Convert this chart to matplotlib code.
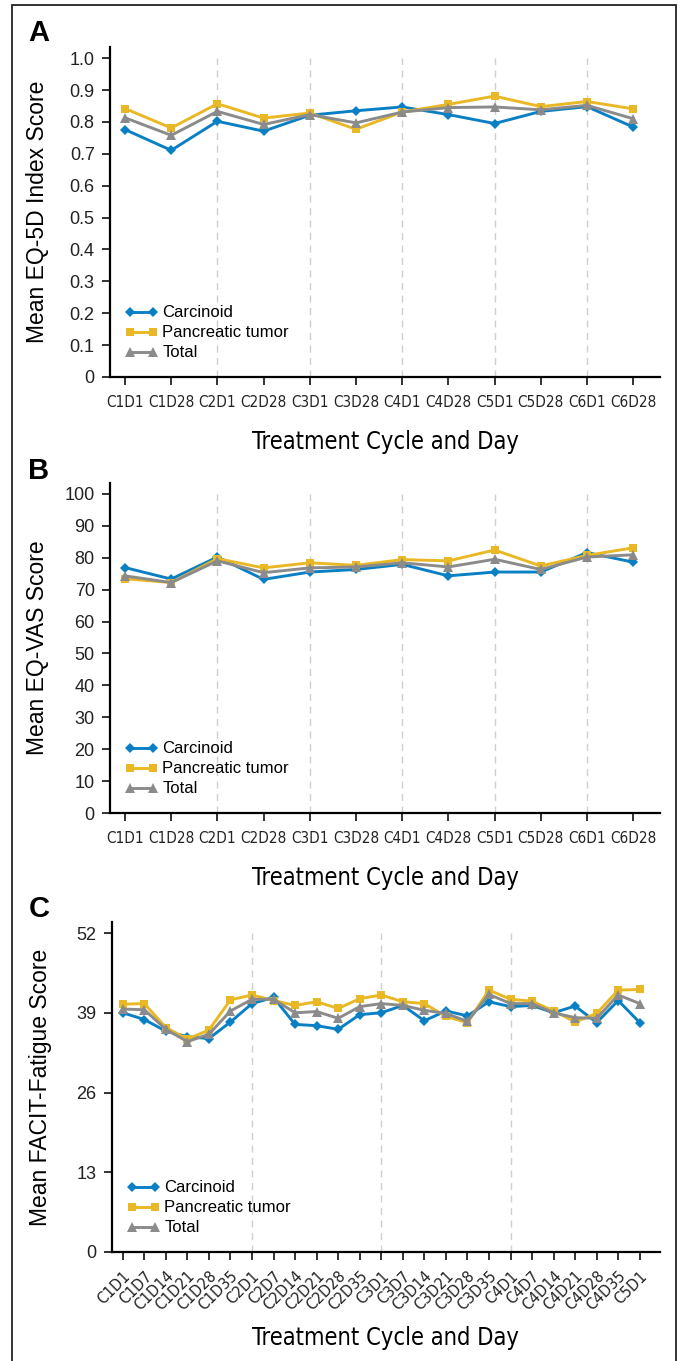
"""Recreate the three-panel EQ-5D / EQ-VAS / FACIT-Fatigue line chart."""

import matplotlib
matplotlib.use("Agg")
import matplotlib.pyplot as plt
from matplotlib.lines import Line2D

# ---- data -------------------------------------------------------------
visits_ab = ["C1D1", "C1D28", "C2D1", "C2D28", "C3D1", "C3D28",
             "C4D1", "C4D28", "C5D1", "C5D28", "C6D1", "C6D28"]

eq5d_carcinoid = [0.776, 0.711, 0.802, 0.771, 0.821, 0.835,
                  0.847, 0.823, 0.795, 0.833, 0.848, 0.784]
eq5d_pancreatic = [0.842, 0.781, 0.857, 0.812, 0.828, 0.777,
                   0.831, 0.855, 0.881, 0.848, 0.864, 0.841]
eq5d_total = [0.813, 0.758, 0.833, 0.792, 0.823, 0.797,
              0.831, 0.845, 0.847, 0.838, 0.852, 0.810]

vas_carcinoid = [76.9, 73.3, 80.2, 73.2, 75.5, 76.3,
                 77.9, 74.3, 75.5, 75.5, 81.6, 78.6]
vas_pancreatic = [73.4, 72.2, 79.7, 76.8, 78.4, 77.6,
                  79.4, 79.0, 82.4, 77.4, 80.7, 83.1]
vas_total = [74.3, 72.2, 79.0, 75.3, 76.8, 77.1,
             78.4, 77.1, 79.5, 76.3, 80.2, 80.9]

visits_c = ["C1D1", "C1D7", "C1D14", "C1D21", "C1D28", "C1D35",
            "C2D1", "C2D7", "C2D14", "C2D21", "C2D28", "C2D35",
            "C3D1", "C3D7", "C3D14", "C3D21", "C3D28", "C3D35",
            "C4D1", "C4D7", "C4D14", "C4D21", "C4D28", "C4D35", "C5D1"]

facit_carcinoid = [39.0, 37.9, 36.0, 35.1, 34.8, 37.5, 40.5, 41.5, 37.1,
                   36.9, 36.3, 38.7, 39.0, 40.2, 37.7, 39.3, 38.5, 40.8,
                   40.0, 40.2, 39.0, 40.1, 37.4, 41.0, 37.4]
facit_pancreatic = [40.4, 40.5, 36.6, 34.7, 36.2, 41.1, 41.9, 41.0, 40.2,
                    40.8, 39.7, 41.3, 41.9, 40.8, 40.5, 38.4, 37.4, 42.7,
                    41.2, 40.9, 39.3, 37.5, 38.9, 42.7, 42.8]
facit_total = [39.6, 39.5, 36.3, 34.3, 35.5, 39.3, 41.2, 41.2, 39.0,
               39.2, 38.1, 40.0, 40.5, 40.2, 39.4, 38.9, 37.6, 42.0,
               40.5, 40.5, 39.0, 38.2, 38.1, 41.9, 40.5]

series_labels = ["Carcinoid", "Pancreatic tumor", "Total"]

# ---- style ------------------------------------------------------------
BLUE = "#0a80c4"
YELLOW = "#e9b824"
GRAY = "#8b8b8b"
STYLES = [(BLUE, "D", 5.5), (YELLOW, "s", 6), (GRAY, "^", 6.5)]

plt.rcParams["font.family"] = "Liberation Sans"
plt.rcParams["axes.linewidth"] = 1.6

# condensed face for tick labels / x label (like the journal's Univers Cond.)
NARROW = dict(family="DejaVu Sans", stretch="condensed")


def draw_panel(ax, labels, series, yticks, ytick_fmt, ytop, xlim, ylabel,
               dashed_at, rotate=False, xlabel_y=-0.16):
    x = list(range(len(labels)))
    for vals, (col, mk, ms) in zip(series, STYLES):
        ax.plot(x, vals, color=col, marker=mk, markersize=ms, linewidth=2.1,
                markeredgewidth=0, zorder=3)

    ax.vlines(dashed_at, 0, yticks[-1], colors="#cfcfcf",
              linestyles=(0, (5, 4)), linewidth=1.0, zorder=1)

    ax.set_xlim(*xlim)
    ax.set_ylim(0, ytop)
    ax.set_yticks(yticks)
    ax.set_yticklabels([ytick_fmt.format(t) if t else "0" for t in yticks],
                       fontsize=13)
    ax.set_xticks(x)
    if rotate:
        ax.set_xticklabels(labels, rotation=45, ha="right",
                           rotation_mode="anchor", fontsize=11.5, **NARROW)
    else:
        ax.set_xticklabels(labels, fontsize=11, **NARROW)

    for side in ("top", "right"):
        ax.spines[side].set_visible(False)
    ax.tick_params(direction="out", length=6, width=1.3, colors="#222222",
                   pad=5)
    ax.tick_params(axis="x", pad=7 if not rotate else 6)

    ax.set_ylabel(ylabel, fontsize=16.5)
    ax.yaxis.set_label_coords(-0.11, 0.5)
    ax.set_xlabel("Treatment Cycle and Day", fontsize=17, **NARROW)
    ax.xaxis.set_label_coords(0.5, xlabel_y)

    handles = [Line2D([], [], color=c, marker=m, markersize=ms, linewidth=2.1,
                      markeredgewidth=0)
               for c, m, ms in STYLES]
    ax.legend(handles, series_labels, loc="lower left",
              bbox_to_anchor=(0.0, 0.005), frameon=False, fontsize=12,
              handlelength=2.0, handletextpad=0.25, labelspacing=0.3,
              numpoints=2)


fig = plt.figure(figsize=(6.8, 13.61), dpi=100)

ax_a = fig.add_axes([110 / 680, 1 - 377 / 1361, 550 / 680, 330 / 1361])
draw_panel(ax_a, visits_ab, [eq5d_carcinoid, eq5d_pancreatic, eq5d_total],
           [0, 0.1, 0.2, 0.3, 0.4, 0.5, 0.6, 0.7, 0.8, 0.9, 1.0], "{:.1f}",
           1.035, (-0.325, 11.58), "Mean EQ-5D Index Score",
           [2, 4, 6, 8, 10])

ax_b = fig.add_axes([110 / 680, 1 - 813 / 1361, 550 / 680, 330 / 1361])
draw_panel(ax_b, visits_ab, [vas_carcinoid, vas_pancreatic, vas_total],
           [0, 10, 20, 30, 40, 50, 60, 70, 80, 90, 100], "{:d}",
           103.4, (-0.325, 11.58), "Mean EQ-VAS Score", [2, 4, 6, 8, 10])

ax_c = fig.add_axes([112 / 680, 1 - 1252 / 1361, 548 / 680, 330 / 1361])
draw_panel(ax_c, visits_c, [facit_carcinoid, facit_pancreatic, facit_total],
           [0, 13, 26, 39, 52], "{:d}", 53.8, (-0.5, 24.94),
           "Mean FACIT-Fatigue Score", [6, 12, 18],
           rotate=True, xlabel_y=-0.225)

# panel letters
for letter, ypix in [("A", 33), ("B", 471), ("C", 909)]:
    fig.text(39 / 680, 1 - ypix / 1361, letter, fontsize=21,
             fontweight="bold", ha="center", va="center")

# outer frame of the figure
fig.add_artist(plt.Rectangle((12 / 680, -0.01), 664 / 680, 1 - 5 / 1361 + 0.01,
                             transform=fig.transFigure, fill=False,
                             edgecolor="#222222", linewidth=1.3))

fig.savefig("out.png", dpi=100)
